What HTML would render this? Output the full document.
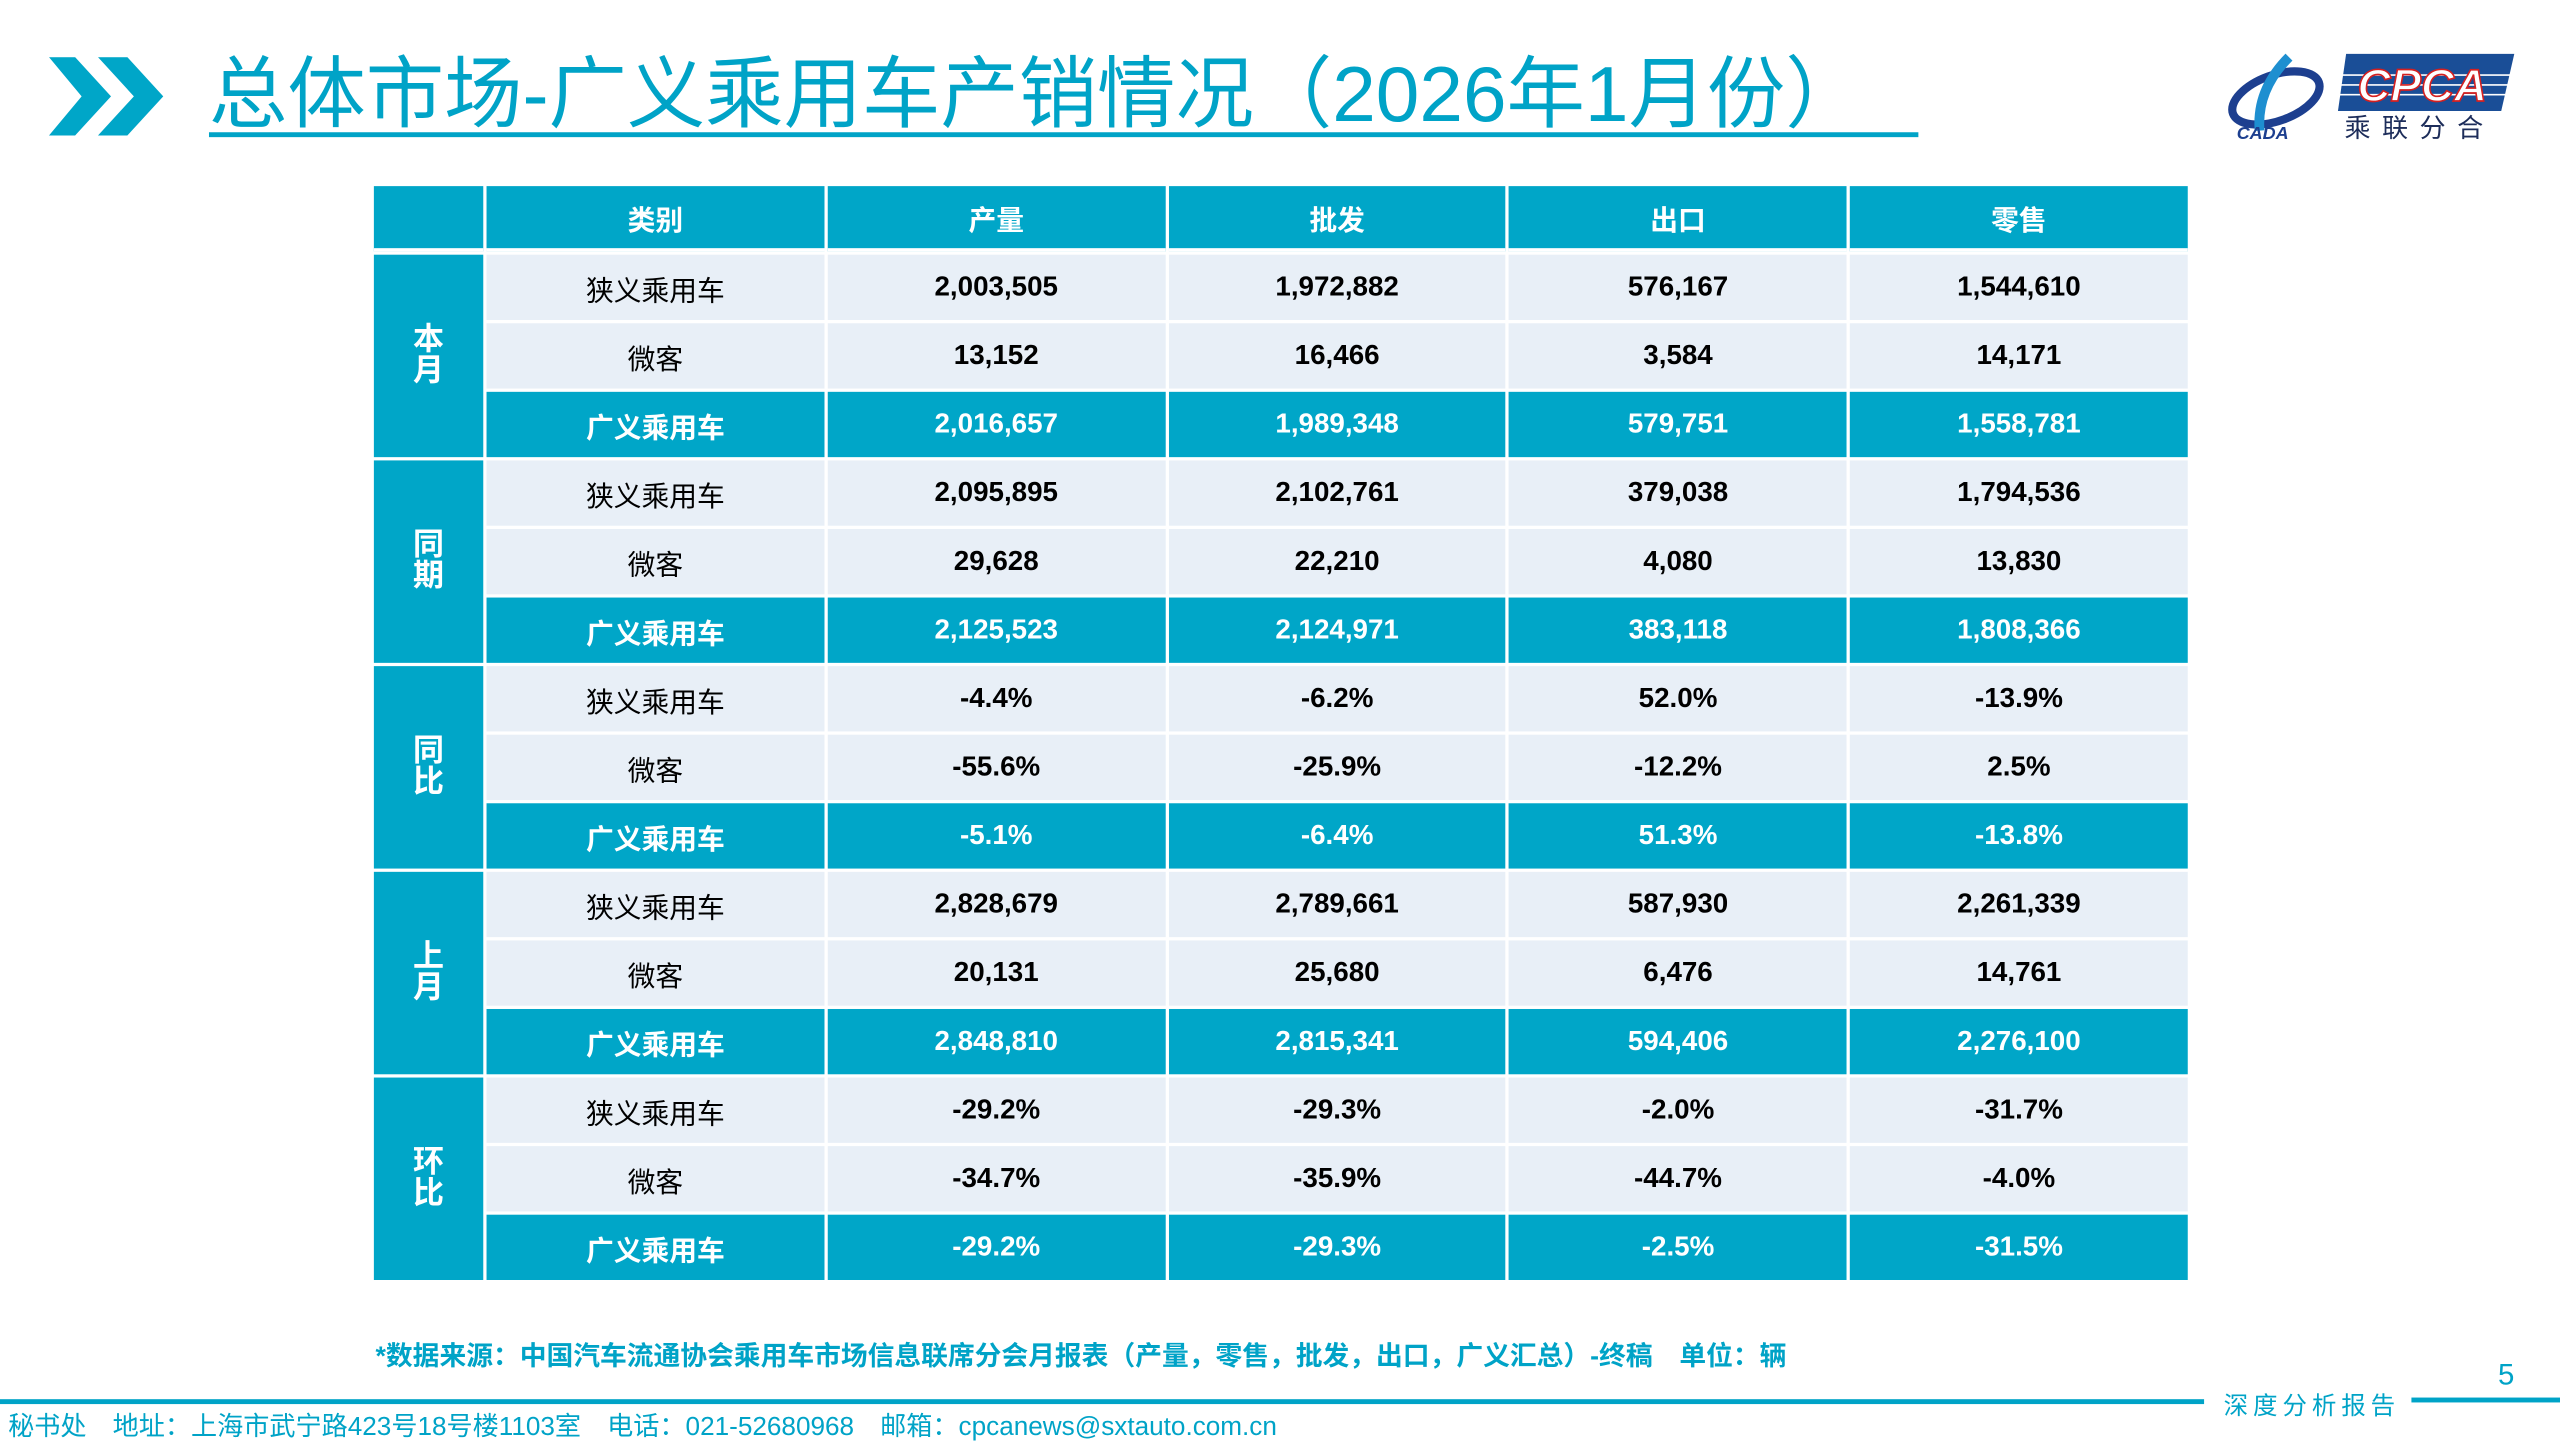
<!DOCTYPE html>
<html><head><meta charset="utf-8"><style>
html,body{margin:0;padding:0;background:#fff;}
body{width:2560px;height:1440px;overflow:hidden;position:relative;}
#s{position:absolute;left:0;top:0;width:1568px;height:882px;transform:scale(1.632653);transform-origin:0 0;font-family:"Liberation Sans","Noto Sans CJK SC",sans-serif;}
.abs{position:absolute;}
.title{left:128px;top:31px;font-size:48px;color:#00a3c7;white-space:nowrap;line-height:56px;}
.uline{left:128px;top:81px;width:1047px;height:3px;background:#00a3c7;}
table{position:absolute;left:227px;top:112px;border-collapse:separate;border-spacing:2px 2px;table-layout:fixed;width:1115px;}
td{padding:0;text-align:center;font-size:17px;font-weight:bold;color:#000;background:#e8eff7;height:40px;}
tr.h td{background:#00a6c8;color:#fff;height:38px;border-bottom:2px solid #fff;}
tr.hl td{background:#00a6c8;color:#fff;}
td.c{font-weight:normal;}
tr.hl td.c{font-weight:bold;}
td.g{background:#00a6c8;color:#fff;font-size:19px;line-height:19px;}
</style></head><body><div id="s">
<svg class="abs" style="left:30px;top:35px" width="72" height="48" viewBox="0 0 72 48"><polygon points="0,0 16,0 38,24 16,48 0,48 20,24" fill="#00a6c8"/><polygon points="30,0 48,0 70,24 48,48 30,48 52,24" fill="#00a6c8"/></svg>
<div class="abs title">总体市场-广义乘用车产销情况（2026年1月份）</div>
<div class="abs uline"></div>
<svg class="abs" style="left:1362px;top:30px" width="185" height="60" viewBox="0 0 185 60">
<ellipse cx="32" cy="30" rx="28" ry="14" fill="none" stroke="#1d3f8f" stroke-width="5" transform="rotate(-20 32 30)"/>
<path d="M40 5 Q20 25 22 50" stroke="#1e8fd0" stroke-width="6" fill="none"/>
<text x="8" y="55" font-family="Liberation Sans" font-style="italic" font-weight="bold" font-size="11" fill="#1d3f8f">CADA</text>
<polygon points="75,3 178,3 170,38 70,38" fill="#1a4e97"/>
<line x1="72" y1="16" x2="176" y2="16" stroke="#fff" stroke-width="1"/><line x1="71" y1="22" x2="175" y2="22" stroke="#fff" stroke-width="1"/><line x1="70" y1="28" x2="174" y2="28" stroke="#fff" stroke-width="1"/>
<text x="82" y="32" font-family="Liberation Sans" font-style="italic" font-weight="bold" font-size="28" fill="#fff" stroke="#d42020" stroke-width="1">CPCA</text>
<text x="74" y="54" font-family="Noto Sans CJK SC" font-size="16" letter-spacing="7" fill="#1d2d5a">乘联分合</text>
</svg>
<table>
<colgroup><col style="width:67px"><col><col><col><col><col></colgroup>
<tr class="h"><td></td><td>类别</td><td>产量</td><td>批发</td><td>出口</td><td>零售</td></tr>
<tr><td class="g" rowspan="3">本<br>月</td><td class="c">狭义乘用车</td><td>2,003,505</td><td>1,972,882</td><td>576,167</td><td>1,544,610</td></tr>
<tr><td class="c">微客</td><td>13,152</td><td>16,466</td><td>3,584</td><td>14,171</td></tr>
<tr class="hl"><td class="c">广义乘用车</td><td>2,016,657</td><td>1,989,348</td><td>579,751</td><td>1,558,781</td></tr>
<tr><td class="g" rowspan="3">同<br>期</td><td class="c">狭义乘用车</td><td>2,095,895</td><td>2,102,761</td><td>379,038</td><td>1,794,536</td></tr>
<tr><td class="c">微客</td><td>29,628</td><td>22,210</td><td>4,080</td><td>13,830</td></tr>
<tr class="hl"><td class="c">广义乘用车</td><td>2,125,523</td><td>2,124,971</td><td>383,118</td><td>1,808,366</td></tr>
<tr><td class="g" rowspan="3">同<br>比</td><td class="c">狭义乘用车</td><td>-4.4%</td><td>-6.2%</td><td>52.0%</td><td>-13.9%</td></tr>
<tr><td class="c">微客</td><td>-55.6%</td><td>-25.9%</td><td>-12.2%</td><td>2.5%</td></tr>
<tr class="hl"><td class="c">广义乘用车</td><td>-5.1%</td><td>-6.4%</td><td>51.3%</td><td>-13.8%</td></tr>
<tr><td class="g" rowspan="3">上<br>月</td><td class="c">狭义乘用车</td><td>2,828,679</td><td>2,789,661</td><td>587,930</td><td>2,261,339</td></tr>
<tr><td class="c">微客</td><td>20,131</td><td>25,680</td><td>6,476</td><td>14,761</td></tr>
<tr class="hl"><td class="c">广义乘用车</td><td>2,848,810</td><td>2,815,341</td><td>594,406</td><td>2,276,100</td></tr>
<tr><td class="g" rowspan="3">环<br>比</td><td class="c">狭义乘用车</td><td>-29.2%</td><td>-29.3%</td><td>-2.0%</td><td>-31.7%</td></tr>
<tr><td class="c">微客</td><td>-34.7%</td><td>-35.9%</td><td>-44.7%</td><td>-4.0%</td></tr>
<tr class="hl"><td class="c">广义乘用车</td><td>-29.2%</td><td>-29.3%</td><td>-2.5%</td><td>-31.5%</td></tr>
</table>
<div class="abs" style="left:230px;top:817px;font-size:16.4px;font-weight:bold;color:#00a3c7;white-space:nowrap;">*数据来源：中国汽车流通协会乘用车市场信息联席分会月报表（产量，零售，批发，出口，广义汇总）-终稿　单位：辆</div>
<div class="abs" style="left:1530px;top:832px;font-size:18px;color:#00a3c7;">5</div>
<div class="abs" style="left:0;top:857px;width:1350px;height:3px;background:#00a3c7;"></div>
<div class="abs" style="left:1362px;top:850px;font-size:15px;color:#00a3c7;letter-spacing:3px;white-space:nowrap;">深度分析报告</div>
<div class="abs" style="left:1477px;top:856px;width:91px;height:3px;background:#00a3c7;"></div>
<div class="abs" style="left:5px;top:860px;font-size:16px;color:#00a3c7;white-space:nowrap;">秘书处　地址：上海市武宁路423号18号楼1103室　电话：021-52680968　邮箱：cpcanews@sxtauto.com.cn</div>
</div></body></html>
